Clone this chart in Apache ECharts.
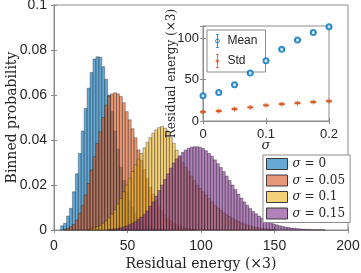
<!DOCTYPE html>
<html><head><meta charset="utf-8">
<script src="https://cdn.jsdelivr.net/npm/echarts@6/dist/echarts.min.js"></script>
<style>html,body{margin:0;padding:0;background:#fff}#c{width:361px;height:273px}</style>
</head><body><div id="c"></div>
<script>
// ---- data ----
const binWidth = 2;
const blueStart = 5.5;
const blueProb = [0.0019,0.003,0.0062,0.0096,0.017,0.025,0.034,0.044,0.054,0.063,0.070,0.076,0.077,0.0768,0.0726,0.067,0.060,0.0526,0.044,0.036,0.028,0.022,0.017,0.013,0.010,0.0075,0.0055,0.004,0.0028,0.002,0.0014,0.001,0.0007,0.0005,0.0003];
const orangeStart = 7.5;
const orangeProb = [0.0003,0.0008,0.0015,0.0024,0.0044,0.0075,0.011,0.0156,0.0207,0.0267,0.0326,0.0385,0.0437,0.050,0.0555,0.0595,0.0605,0.061,0.0605,0.0593,0.0566,0.0526,0.049,0.045,0.041,0.0356,0.031,0.027,0.023,0.019,0.016,0.013,0.0105,0.0085,0.0068,0.0054,0.0042,0.0032,0.0025,0.0019,0.0014,0.001,0.0007,0.0005,0.0003];
const yellowStart = 23.5;
const yellowProb = [0.0003,0.0005,0.001,0.0015,0.002,0.003,0.004,0.0055,0.007,0.009,0.0115,0.014,0.017,0.020,0.023,0.026,0.029,0.0315,0.034,0.0365,0.039,0.041,0.043,0.0445,0.0455,0.046,0.0452,0.0435,0.041,0.0385,0.0355,0.0325,0.030,0.028,0.026,0.024,0.022,0.020,0.0185,0.017,0.0155,0.014,0.0125,0.011,0.0098,0.0087,0.0077,0.0068,0.006,0.0052,0.0045,0.0038,0.0032,0.0027,0.0022,0.0018,0.0015,0.0012,0.001,0.0008,0.0006,0.0004,0.0003,0.0002];
const purpleStart = 37.5;
const purpleProb = [0.0002,0.0003,0.0005,0.0008,0.001,0.0014,0.0018,0.0023,0.003,0.0037,0.0046,0.0057,0.007,0.0085,0.0105,0.0125,0.015,0.0175,0.020,0.0225,0.025,0.0275,0.0298,0.0316,0.033,0.0345,0.0355,0.0363,0.0368,0.037,0.037,0.0368,0.0362,0.0352,0.034,0.0328,0.0312,0.0295,0.0278,0.026,0.024,0.022,0.020,0.018,0.016,0.0142,0.0125,0.011,0.0096,0.0083,0.0072,0.0062,0.0053,0.0045,0.0038,0.0032,0.0027,0.0023,0.0019,0.0016,0.0013,0.0011,0.0009,0.0008,0.0006,0.0005,0.0004,0.0003,0.0003,0.0002,0.0002,0.0001,0.0001,0.0001];
const legendNames = ['σ = 0','σ = 0.05','σ = 0.1','σ = 0.15'];

const sigmaVals = [0,0.025,0.05,0.075,0.1,0.125,0.15,0.175,0.2];
const meanVals = [30.5,34.6,44,58,73,87,98,107,114];
const stdVals = [11,12,14.5,16.5,19,20.5,21.7,23,24];
const meanErr = [0.4,0.4,0.4,0.4,0.4,0.4,0.4,0.4,0.4];
const stdErr = [0.3,0.3,0.3,0.3,0.3,0.3,0.3,0.3,0.3];

// ---- styles ----
const fills = ['rgba(0,114,189,0.6)','rgba(217,83,25,0.6)','rgba(237,177,32,0.6)','rgba(126,47,142,0.6)'];
const solid = ['#66a9d7','#e8987a','#f4d079','#b282bb'];
const axisGray = '#8c8c8c';
const txt = '#262626';
const serif = 'DejaVu Serif';
const sans = 'Liberation Sans';

function toPairs(start, arr){ return arr.map((p,i)=>[start + i*binWidth, p]); }
function histRender(fill){
  return function(params, api){
    const c = api.value(0), h = api.value(1);
    const a = api.coord([c - binWidth/2, h]);
    const b = api.coord([c + binWidth/2, 0]);
    return {type:'rect', shape:{x:a[0], y:a[1], width:b[0]-a[0], height:b[1]-a[1]},
      style:{fill:fill, stroke:'rgba(20,20,20,0.55)', lineWidth:0.6}};
  };
}
function errRender(color){
  return function(params, api){
    const x=api.value(0), y=api.value(1), e=api.value(2);
    const t=api.coord([x,y+e]), b=api.coord([x,y-e]);
    const hw=3, st={stroke:color,lineWidth:1};
    return {type:'group', children:[
      {type:'line', shape:{x1:t[0],y1:t[1],x2:b[0],y2:b[1]}, style:st},
      {type:'line', shape:{x1:t[0]-hw,y1:t[1],x2:t[0]+hw,y2:t[1]}, style:st},
      {type:'line', shape:{x1:b[0]-hw,y1:b[1],x2:b[0]+hw,y2:b[1]}, style:st}
    ]};
  };
}
const starPath = 'path://M0,5L10,5M5,0L5,10M1.5,1.5L8.5,8.5M1.5,8.5L8.5,1.5';
const meanIcon = 'path://M5,0L5,20M3,0L7,0M3,20L7,20M8,10A3,3,0,1,1,2,10A3,3,0,1,1,8,10Z';
const stdIcon = 'path://M5,0L5,20M3,0L7,0M3,20L7,20M2,10L8,10M5,7L5,13M3,8L7,12M3,12L7,8';

function baseAxis(extra){
  return Object.assign({
    type:'value',
    nameMoveOverlap:false,
    axisLine:{show:true, lineStyle:{color:axisGray, width:1}},
    axisTick:{show:true, inside:true, length:3, lineStyle:{color:axisGray}},
    splitLine:{show:false},
    axisLabel:{color:txt, fontFamily:sans, fontSize:14}
  }, extra);
}

const histData = [[blueStart,blueProb],[orangeStart,orangeProb],[yellowStart,yellowProb],[purpleStart,purpleProb]];

const option = {
  animation:false,
  backgroundColor:'#fff',
  grid:[
    {left:54, top:5, width:294, height:225, show:true, borderColor:axisGray, borderWidth:1, backgroundColor:'transparent',
      containLabel:false, outerBoundsMode:'none'},
    {left:203, top:26, width:126, height:95, show:true, borderColor:axisGray, borderWidth:1, backgroundColor:'#fff', z:5,
      containLabel:false, outerBoundsMode:'none'}
  ],
  xAxis:[
    baseAxis({gridIndex:0, min:0, max:200, interval:50, axisLabel:{color:txt, fontFamily:sans, fontSize:14, margin:9},
      name:'Residual energy (×3)', nameLocation:'middle', nameGap:27,
      nameTextStyle:{color:txt, fontFamily:serif, fontSize:14}}),
    baseAxis({gridIndex:0, min:0, max:200, interval:50, position:'top', axisLabel:{show:false}}),
    baseAxis({gridIndex:1, min:0, max:0.2, interval:0.1, z:6, axisLabel:{color:txt, fontFamily:sans, fontSize:13, margin:7,
      formatter:v=>String(+v.toFixed(2))},
      name:'σ', nameLocation:'middle', nameGap:18,
      nameTextStyle:{color:txt, fontFamily:serif, fontSize:13, fontStyle:'italic'}}),
    baseAxis({gridIndex:1, min:0, max:0.2, interval:0.1, z:6, position:'top', axisLabel:{show:false}})
  ],
  yAxis:[
    baseAxis({gridIndex:0, min:0, max:0.1, interval:0.02, axisLabel:{color:txt, fontFamily:sans, fontSize:14, margin:7,
      formatter:v=>String(+v.toFixed(2))},
      name:'Binned probability', nameLocation:'middle', nameGap:35,
      nameTextStyle:{color:txt, fontFamily:serif, fontSize:14}}),
    baseAxis({gridIndex:0, min:0, max:0.1, interval:0.02, position:'right', axisLabel:{show:false}}),
    baseAxis({gridIndex:1, min:0, max:115, interval:50, z:6, axisLabel:{color:txt, fontFamily:sans, fontSize:13, margin:4,
      formatter:v=>(v%50===0?String(v):'')},
      name:'Residual energy (×3)', nameLocation:'middle', nameGap:25,
      nameTextStyle:{color:txt, fontFamily:serif, fontSize:12}}),
    baseAxis({gridIndex:1, min:0, max:115, interval:50, z:6, position:'right', axisLabel:{show:false}})
  ],
  legend:[
    {orient:'vertical', left:263, top:155, padding:[3,5,3,3], itemGap:4.5, itemWidth:21, itemHeight:11,
      backgroundColor:'#fff', borderColor:axisGray, borderWidth:1, borderRadius:0, selectedMode:false,
      data:legendNames.map((n,i)=>({name:n, icon:'rect', itemStyle:{color:solid[i], borderColor:'#3a3a3a', borderWidth:1}})),
      formatter:n=>'{i|σ}'+n.slice(1),
      textStyle:{color:txt, fontFamily:serif, fontSize:12, rich:{i:{fontStyle:'italic', fontFamily:serif, fontSize:12, color:txt}}}},
    {orient:'vertical', left:207, top:30, padding:[2,8,2,6], itemGap:2, itemWidth:10, itemHeight:13, z:8,
      backgroundColor:'#fff', borderColor:axisGray, borderWidth:1, selectedMode:false,
      data:[
        {name:'Mean', icon:meanIcon, itemStyle:{color:'none', borderColor:'#0072BD', borderWidth:1}},
        {name:'Std', icon:stdIcon, itemStyle:{color:'none', borderColor:'#D95319', borderWidth:1}}
      ],
      textStyle:{color:txt, fontFamily:sans, fontSize:12}}
  ],
  series:[
    ...histData.map((d,i)=>({
      type:'custom', name:legendNames[i], xAxisIndex:0, yAxisIndex:0,
      renderItem:histRender(fills[i]), data:toPairs(d[0], d[1]),
      itemStyle:{color:solid[i]}, encode:{x:0, y:1}, z:2+i*0.01
    })),
    {type:'custom', name:'MeanErr', xAxisIndex:2, yAxisIndex:2, z:7, clip:false,
      renderItem:errRender('#0072BD'), data:sigmaVals.map((s,i)=>[s, meanVals[i], meanErr[i]]), encode:{x:0,y:1}},
    {type:'custom', name:'StdErr', xAxisIndex:2, yAxisIndex:2, z:7, clip:false,
      renderItem:errRender('#D95319'), data:sigmaVals.map((s,i)=>[s, stdVals[i], stdErr[i]]), encode:{x:0,y:1}},
    {type:'scatter', name:'Mean', xAxisIndex:2, yAxisIndex:2, z:8, clip:false, symbol:'emptyCircle', symbolSize:5,
      itemStyle:{color:'#0072BD', borderWidth:1}, data:sigmaVals.map((s,i)=>[s, meanVals[i]])},
    {type:'scatter', name:'Std', xAxisIndex:2, yAxisIndex:2, z:8, clip:false, symbol:starPath, symbolSize:5,
      itemStyle:{color:'none', borderColor:'#D95319', borderWidth:1}, data:sigmaVals.map((s,i)=>[s, stdVals[i]])}
  ]
};
const chart = echarts.init(document.getElementById('c'), null, {renderer:'canvas'});
chart.setOption(option);
</script>
</body></html>
